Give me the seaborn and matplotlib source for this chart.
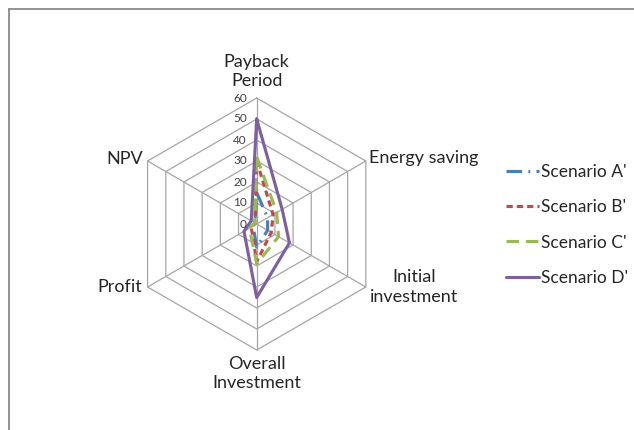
import numpy as np
import pandas as pd
import matplotlib
matplotlib.use("Agg")
import matplotlib.pyplot as plt
from matplotlib.lines import Line2D
import seaborn as sns

# radar chart values (scale 0-60)
categories = ["Payback\nPeriod", "Energy saving", "Initial\ninvestment",
              "Overall\nInvestment", "Profit", "NPV"]
scenario_names = ["Scenario A'", "Scenario B'", "Scenario C'", "Scenario D'"]
scenario_a = [15, 6, 6, 11, 2, 1]
scenario_b = [30, 9, 8, 18, 3, 1]
scenario_c = [32, 11, 12, 19, 4, 1]
scenario_d = [50, 14, 18, 35, 7, 3]
ring_ticks = [0, 10, 20, 30, 40, 50, 60]

sns.set_style("white")
plt.rcParams["font.family"] = ["Lato", "DejaVu Sans"]

# one angle per category, going clockwise from the top (excel style)
n = len(categories)
angles = np.linspace(0, 2 * np.pi, n, endpoint=False)
closed = np.append(angles, angles[0] + 2 * np.pi)

# long format so seaborn can do hue + style
frames = []
for name, vals in zip(scenario_names, [scenario_a, scenario_b, scenario_c, scenario_d]):
    frames.append(pd.DataFrame({"theta": closed,
                                "value": list(vals) + [vals[0]],
                                "scenario": name}))
df = pd.concat(frames, ignore_index=True)

W, H = 634, 430
cx, cy, R = 256.7, 224, 126
fig = plt.figure(figsize=(W / 100, H / 100), dpi=100)
ax = fig.add_axes([(cx - R) / W, (H - cy - R) / H, 2 * R / W, 2 * R / H], projection="polar")
ax.set_theta_zero_location("N")
ax.set_theta_direction(-1)

grid_col = "#A6A6A6"
# hexagon rings + spokes instead of the round polar grid
for r in ring_ticks[1:]:
    ax.plot(closed, [r] * (n + 1), color=grid_col, lw=0.9, zorder=0, clip_on=False)
for a in angles:
    ax.plot([a, a], [0, ring_ticks[-1]], color=grid_col, lw=0.9, zorder=0, clip_on=False)

palette = {"Scenario A'": "#4A7EBB", "Scenario B'": "#BE4B48",
           "Scenario C'": "#98B954", "Scenario D'": "#7D60A0"}
dashes = {"Scenario A'": (5, 2, 0.6, 2), "Scenario B'": (2, 1.3),
          "Scenario C'": (4, 2.2), "Scenario D'": ""}

sns.lineplot(data=df, x="theta", y="value", hue="scenario", style="scenario",
             palette=palette, dashes=dashes, sort=False, estimator=None,
             linewidth=2.25, ax=ax)

ax.set_ylim(0, ring_ticks[-1])
ax.grid(False)
ax.spines["polar"].set_visible(False)
ax.set_xticks([])
ax.set_yticks([])
ax.set_xlabel("")
ax.set_ylabel("")
ax.patch.set_alpha(0)

# ring value labels along the top spoke
for r in ring_ticks:
    ax.annotate(str(r), xy=(0, r), xytext=(-10, 0), textcoords="offset pixels",
                ha="right", va="center", fontsize=8.5, color="#404040")

# category labels outside the outer ring
label_pos = [((0, 9), "center", "bottom"),
             ((3, 3), "left", "center"),
             ((4, 0), "left", "center"),
             ((0, -6), "center", "top"),
             ((-5, 0), "right", "center"),
             ((-5, 2), "right", "center")]
for a, cat, (off, ha, va) in zip(angles, categories, label_pos):
    ax.annotate(cat, xy=(a, ring_ticks[-1]), xytext=off, textcoords="offset pixels",
                ha=ha, va=va, multialignment="center", linespacing=1.25,
                fontsize=13, color="#262626", annotation_clip=False)

sns.move_legend(ax, "center left", bbox_to_anchor=(506 / W, 1 - 225 / H),
                bbox_transform=fig.transFigure, frameon=False, title=None,
                fontsize=12.5, handlelength=1.9, labelspacing=1.1,
                handletextpad=0.12, borderpad=0, borderaxespad=0)

# chart area border (only top and left visible in the crop)
fig.add_artist(Line2D([9 / W, 1], [1 - 9 / H, 1 - 9 / H], transform=fig.transFigure,
                      color="#808080", lw=1.2))
fig.add_artist(Line2D([9 / W, 9 / W], [0, 1 - 9 / H], transform=fig.transFigure,
                      color="#808080", lw=1.2))

fig.savefig("out.png", dpi=100)
